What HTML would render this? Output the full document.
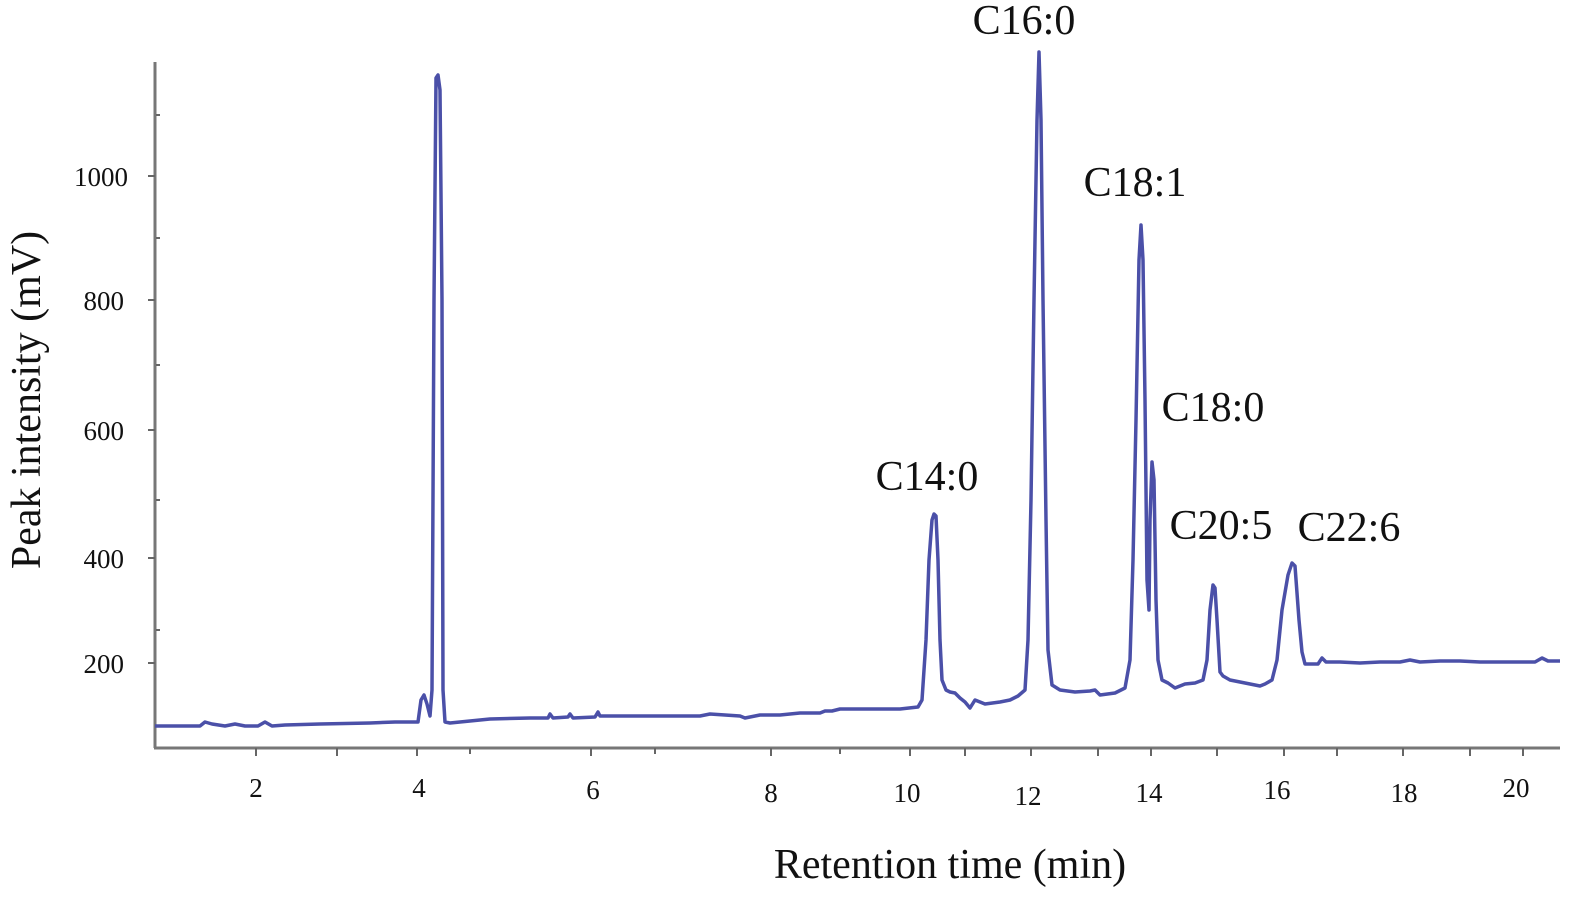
<!DOCTYPE html>
<html><head><meta charset="utf-8"><style>
html,body{margin:0;padding:0;background:#fff;}
svg{display:block;}
text{font-family:"Liberation Serif",serif;fill:#111;}
.t{font-size:27px;fill:#333;}
.lab{font-size:42px;}
</style></head><body>
<svg width="1575" height="900" viewBox="0 0 1575 900">
<g stroke="#777" stroke-width="3" fill="none">
<line x1="155" y1="62" x2="155" y2="748"/>
<line x1="154" y1="748" x2="1560" y2="748"/>
</g>
<g stroke="#666" stroke-width="2">
<line x1="148" y1="176" x2="155" y2="176"/><line x1="148" y1="300" x2="155" y2="300"/>
<line x1="148" y1="430" x2="155" y2="430"/><line x1="148" y1="558" x2="155" y2="558"/>
<line x1="148" y1="663" x2="155" y2="663"/>
<line x1="156" y1="630" x2="160" y2="630"/><line x1="156" y1="500" x2="160" y2="500"/>
<line x1="156" y1="365" x2="160" y2="365"/><line x1="156" y1="238" x2="160" y2="238"/>
<line x1="156" y1="115" x2="160" y2="115"/>
<line x1="256" y1="748" x2="256" y2="756"/><line x1="337" y1="748" x2="337" y2="756"/>
<line x1="417" y1="748" x2="417" y2="756"/><line x1="470" y1="748" x2="470" y2="754"/>
<line x1="591" y1="748" x2="591" y2="756"/><line x1="655" y1="748" x2="655" y2="754"/>
<line x1="771" y1="748" x2="771" y2="756"/><line x1="840" y1="748" x2="840" y2="754"/>
<line x1="910" y1="748" x2="910" y2="756"/><line x1="965" y1="748" x2="965" y2="756"/>
<line x1="1031" y1="748" x2="1031" y2="756"/><line x1="1098" y1="748" x2="1098" y2="756"/>
<line x1="1151" y1="748" x2="1151" y2="756"/><line x1="1217" y1="748" x2="1217" y2="756"/>
<line x1="1284" y1="748" x2="1284" y2="756"/><line x1="1337" y1="748" x2="1337" y2="756"/>
<line x1="1403" y1="748" x2="1403" y2="756"/><line x1="1470" y1="748" x2="1470" y2="756"/>
<line x1="1523" y1="748" x2="1523" y2="756"/>
</g>
<g class="t" text-anchor="end">
<text x="128" y="186">1000</text><text x="124" y="310">800</text>
<text x="124" y="440">600</text><text x="124" y="568">400</text>
<text x="124" y="673">200</text>
</g>
<g class="t" text-anchor="middle">
<text x="256" y="797">2</text><text x="419" y="797">4</text><text x="593" y="799">6</text>
<text x="771" y="802">8</text><text x="907" y="802">10</text><text x="1028" y="805">12</text>
<text x="1149" y="802">14</text><text x="1277" y="799">16</text><text x="1404" y="802">18</text>
<text x="1516" y="797">20</text>
</g>
<polyline fill="none" stroke="#4b50a8" stroke-width="3.5" stroke-linejoin="round" points="
155,726 200,726 205,722 212,724 225,726 235,724 245,726 258,726 265,722 272,726 285,725 320,724 370,723 395,722 418,722
421,700 424,695 427,704 430,716 432,690 434,300 436,78 438,75 440,90 442,300 443,690 445,722 450,723 470,721 480,720 490,719 530,718 548,718 550,714 553,718 568,717 570,714 573,718 595,717 598,712 600,716 650,716 700,716 710,714 740,716 745,718 760,715 780,715 800,713 820,713 825,711 832,711 840,709 880,709 900,709 918,707 922,700 926,640 929,560 932,520 934,514 936,516 938,560 940,640 942,680 946,690 950,692 955,693 960,698 965,702 970,708 975,700 985,704 1000,702 1010,700 1018,696 1025,690 1028,640 1031,500 1034,300 1037,120 1039,52 1041,120 1043,300 1046,520 1048,650 1052,685 1060,690 1075,692 1090,691 1095,690 1100,695 1115,693 1125,688 1130,660 1133,560 1136,420 1139,260 1141,225 1143,260 1145,400 1147,580 1149,610 1150,520 1152,462 1154,480 1156,600 1158,660 1162,680 1168,683 1175,688 1185,684 1195,683 1203,680 1207,660 1210,610 1213,585 1215,588 1217,620 1220,672 1223,676 1230,680 1240,682 1255,685 1260,686 1265,684 1272,680 1277,660 1282,610 1288,575 1292,563 1295,566 1299,620 1302,652 1305,664 1318,664 1322,658 1326,662 1340,662 1360,663 1380,662 1400,662 1410,660 1420,662 1440,661 1460,661 1480,662 1500,662 1535,662 1542,658 1548,661 1560,661"/>
<g class="lab" text-anchor="middle">
<text x="1024" y="34">C16:0</text>
<text x="1135" y="196">C18:1</text>
<text x="1213" y="421">C18:0</text>
<text x="927" y="490">C14:0</text>
<text x="1221" y="539">C20:5</text>
<text x="1349" y="541">C22:6</text>
<text x="950" y="878">Retention time (min)</text>
<text transform="translate(40,400) rotate(-90)">Peak intensity (mV)</text>
</g>
</svg>
</body></html>
